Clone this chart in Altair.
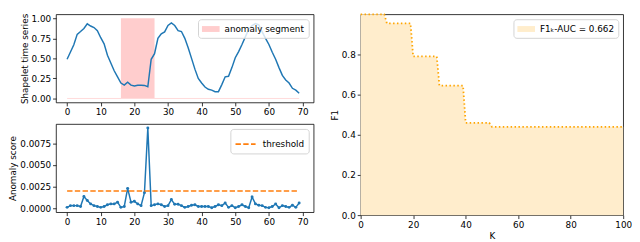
import altair as alt
import pandas as pd

FONT = "DejaVu Sans"

# ---- data: shapelet time series ----
t = list(range(70))
series = [0.49, 0.58, 0.67, 0.80, 0.835, 0.873, 0.931, 0.904, 0.885, 0.846,
          0.758, 0.681, 0.539, 0.443, 0.346, 0.27, 0.193, 0.166, 0.204, 0.166,
          0.155, 0.166, 0.166, 0.163, 0.146, 0.489, 0.558, 0.75, 0.807, 0.83,
          0.911, 0.942, 0.91, 0.846, 0.835, 0.75, 0.634, 0.5, 0.366, 0.25,
          0.193, 0.143, 0.115, 0.104, 0.085, 0.085, 0.173, 0.27, 0.277, 0.385,
          0.508, 0.585, 0.674, 0.769, 0.865, 0.91, 0.935, 0.92, 0.83, 0.75,
          0.674, 0.577, 0.489, 0.385, 0.288, 0.231, 0.193, 0.127, 0.104, 0.066]
seg_start, seg_end = 16, 26
seg_label = "anomaly segment"

# ---- data: anomaly score ----
score = [0.0001, 0.0003, 0.0003, 0.0003, 0.0002, 0.00135, 0.0009, 0.0005, 0.0003, 0.0002,
         0.0001, 0.0002, 0.0004, 0.0005, 0.0005, 0.0007, 0.0001, 0.0002, 0.0023, 0.0007,
         0.0008, 0.0005, 0.0003, 0.0018, 0.0093, 0.0003, 0.0004, 0.0005, 0.0004, 0.0002,
         0.0003, 0.001, 0.00045, 0.00045, 0.0003, 0.0001, 0.0002, 0.00035, 0.0004, 0.0002,
         0.0002, 0.0002, 0.0002, 0.00005, 0.0002, 0.0004, 0.0003, 0.0006, 0.0001, 0.0003,
         0.00005, 0.0002, 0.0004, 0.0002, 0.00005, 0.0013, 0.0005, 0.00035, 0.0003, 0.0001,
         0.00005, 0.0002, 0.0005, 0.00005, 0.0003, 0.0002, 0.0001, 0.00035, 0.0001, 0.0006]
threshold = 0.002
thr_label = "threshold"

# ---- data: F1 vs K ----
K = [0, 9, 10, 19, 20, 29, 30, 39, 40, 49, 50, 100]
F1 = [1.0, 1.0, 0.955, 0.955, 0.79, 0.79, 0.645, 0.645, 0.46, 0.46, 0.44, 0.44]
auc_label = "F1ₖ-AUC = 0.662"

XDOM = [-3.3, 73.3]
xscale = alt.Scale(domain=XDOM, nice=False, zero=False)
x_ticks = list(range(0, 71, 10))


def axis(values, fmt, title=None):
    return alt.Axis(values=values, format=fmt, title=title, labelOverlap=False,
                    labelFlush=False, labelBound=False, tickCount=len(values))


xaxis = axis(x_ticks, "d")


def legend(symtype, size, stroke_w=0, dash=None, label_offset=5):
    kw = dict(title=None, orient="top-right", offset=5, padding=4, cornerRadius=3,
              strokeColor="#d3d3d3", fillColor="rgba(255,255,255,0.8)",
              symbolType=symtype, symbolSize=size, symbolStrokeWidth=stroke_w,
              labelFont=FONT, labelFontSize=9, labelColor="black",
              labelOffset=label_offset)
    if dash is not None:
        kw["symbolDash"] = dash
    return alt.Legend(**kw)


RECT_PATH = "M-1,-0.5H2V0.5H-1Z"

# ---- top-left panel ----
ts_df = pd.DataFrame({"t": t, "v": series})
seg_df = pd.DataFrame({"x0": [seg_start], "x1": [seg_end], "y0": [0.0], "y1": [1.0],
                       "lab": [seg_label]})
base_df = pd.DataFrame({"x0": [t[0]], "x1": [t[-1]], "y": [0.0]})

yscale_ts = alt.Scale(domain=[-0.05, 1.05], nice=False, zero=False)
yaxis_ts = axis([0, 0.25, 0.5, 0.75, 1.0], ".2f", "Shapelet time series")

seg = alt.Chart(seg_df).mark_rect().encode(
    x=alt.X("x0:Q", scale=xscale, axis=xaxis),
    x2="x1:Q",
    y=alt.Y("y0:Q", scale=yscale_ts, axis=yaxis_ts),
    y2="y1:Q",
    fill=alt.Fill("lab:N", scale=alt.Scale(range=["#ffcdcd"]),
                  legend=legend(RECT_PATH, 144, 0, None, 11)),
)
base = alt.Chart(base_df).mark_rule(color="#ffdada", strokeWidth=1).encode(
    x="x0:Q", x2="x1:Q", y="y:Q")
ts_line = alt.Chart(ts_df).mark_line(color="#1f77b4", strokeWidth=1.5).encode(
    x=alt.X("t:Q", scale=xscale, axis=xaxis),
    y=alt.Y("v:Q", scale=yscale_ts, axis=yaxis_ts),
)
top_left = alt.layer(seg, base, ts_line).properties(width=263, height=90)

# ---- bottom-left panel ----
sc_df = pd.DataFrame({"t": t, "s": score})
thr_df = pd.DataFrame({"x0": [t[0]], "x1": [t[-1]], "y": [threshold], "lab": [thr_label]})
yscale_sc = alt.Scale(domain=[-0.00046, 0.00975], nice=False, zero=False)
yaxis_sc = axis([0, 0.0025, 0.005, 0.0075], ".4f", "Anomaly score")

sc_line = alt.Chart(sc_df).mark_line(
    color="#1f77b4", strokeWidth=1.5,
    point=alt.OverlayMarkDef(size=9, color="#1f77b4", filled=True, opacity=1),
).encode(
    x=alt.X("t:Q", scale=xscale, axis=xaxis),
    y=alt.Y("s:Q", scale=yscale_sc, axis=yaxis_sc),
)
thr = alt.Chart(thr_df).mark_rule(strokeDash=[5.5, 2.4], strokeWidth=1.6).encode(
    x="x0:Q", x2="x1:Q", y="y:Q",
    stroke=alt.Stroke("lab:N", scale=alt.Scale(range=["#ff7f0e"]),
                      legend=legend("stroke", 420, 1.6, [5.5, 2.4], 6)),
)
bottom_left = alt.layer(sc_line, thr).properties(width=263, height=90)

left = alt.vconcat(top_left, bottom_left, spacing=6).resolve_scale(
    fill="independent", stroke="independent").resolve_legend(
    fill="independent", stroke="independent")

# ---- right panel ----
f1_df = pd.DataFrame({"K": K, "F1": F1, "lab": [auc_label] * len(K)})
xscale_r = alt.Scale(domain=[0, 100], nice=False)
xaxis_r = axis([0, 20, 40, 60, 80, 100], "d", "K")
yscale_r = alt.Scale(domain=[0, 1], nice=False)
yaxis_r = axis([0, 0.2, 0.4, 0.6, 0.8], ".1f", "F1")

area = alt.Chart(f1_df).mark_area(opacity=1).encode(
    x=alt.X("K:Q", scale=xscale_r, axis=xaxis_r),
    y=alt.Y("F1:Q", scale=yscale_r, axis=yaxis_r),
    fill=alt.Fill("lab:N", scale=alt.Scale(range=["#ffedcc"]),
                  legend=legend(RECT_PATH, 144, 0, None, 11)),
)
f1_line = alt.Chart(f1_df).mark_line(color="#ffa500", strokeWidth=1.8,
                                     strokeDash=[1.5, 2.5]).encode(
    x=alt.X("K:Q", scale=xscale_r, axis=xaxis_r),
    y=alt.Y("F1:Q", scale=yscale_r, axis=yaxis_r),
)
right = alt.layer(area, f1_line).properties(width=268, height=205)

chart = alt.hconcat(left, right, spacing=15).resolve_scale(
    fill="independent", stroke="independent").resolve_legend(
    fill="independent", stroke="independent").properties(
    padding={"left": 0, "top": 0, "right": 0, "bottom": 0}
).configure_view(stroke="black", strokeWidth=0.8).configure_axis(
    domain=False, grid=False, ticks=True, tickColor="black", tickSize=3.5, tickWidth=0.8,
    labelColor="black", labelFont=FONT, labelFontSize=9, labelPadding=2,
    labelOverlap=False, labelFlush=False,
    titleFont=FONT, titleFontSize=9, titleFontWeight="normal", titleColor="black",
    titlePadding=2,
)

chart.save("out.html", embed_options={"renderer": "svg", "actions": False})
